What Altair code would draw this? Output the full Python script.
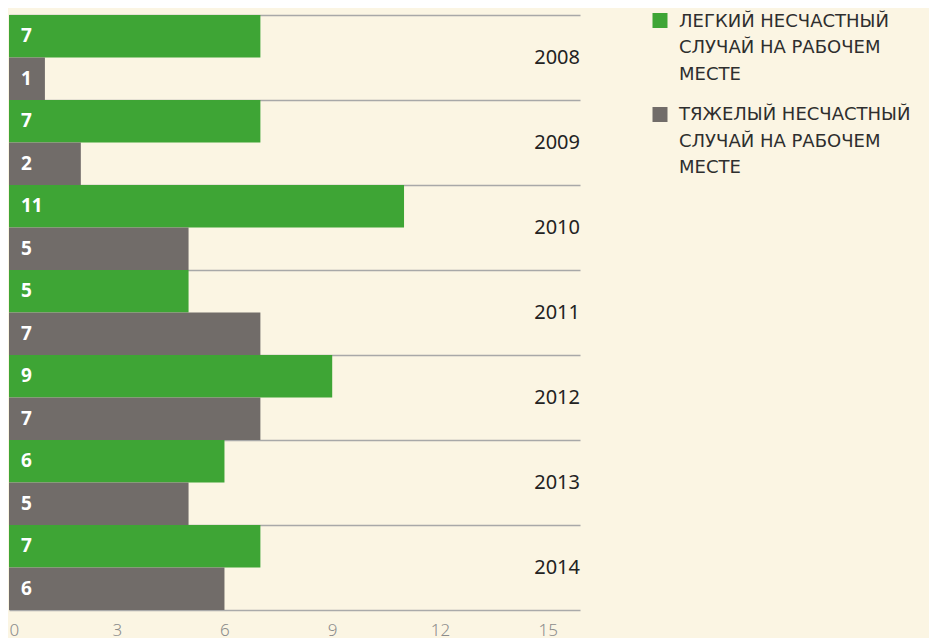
import altair as alt
import pandas as pd

years = ["2008", "2009", "2010", "2011", "2012", "2013", "2014"]
light = [7, 7, 11, 5, 9, 6, 7]
severe = [1, 2, 5, 7, 7, 5, 6]
series = ["ЛЕГКИЙ НЕСЧАСТНЫЙ СЛУЧАЙ НА РАБОЧЕМ МЕСТЕ",
          "ТЯЖЕЛЫЙ НЕСЧАСТНЫЙ СЛУЧАЙ НА РАБОЧЕМ МЕСТЕ"]
legend_lines = ["ЛЕГКИЙ НЕСЧАСТНЫЙ|СЛУЧАЙ НА РАБОЧЕМ|МЕСТЕ",
                "ТЯЖЕЛЫЙ НЕСЧАСТНЫЙ|СЛУЧАЙ НА РАБОЧЕМ|МЕСТЕ"]
colors = ["#3ea535", "#716c69"]
x_ticks = [0, 3, 6, 9, 12, 15]
x_max = 15.9

rows = []
for y, a, b in zip(years, light, severe):
    rows.append({"year": y, "series": series[0], "value": a})
    rows.append({"year": y, "series": series[1], "value": b})
df = pd.DataFrame(rows)
years_df = pd.DataFrame({"year": years})

FONT = "Noto Sans"

xenc = alt.X("value:Q",
             scale=alt.Scale(domain=[0, x_max], nice=False, zero=True),
             axis=alt.Axis(values=x_ticks, title=None, grid=False, ticks=False,
                           domain=True, domainColor="#aaaaaa", domainWidth=1.5,
                           labelColor="#8c8c8c", labelFontSize=17, labelFont=FONT,
                           labelPadding=12, labelFontWeight=300))
yenc = alt.Y("year:N", sort=years,
             scale=alt.Scale(paddingInner=0, paddingOuter=0),
             axis=alt.Axis(grid=True, bandPosition=0, labels=False, ticks=False,
                           domain=False, title=None, gridColor="#a8a8a8",
                           gridWidth=1.5))
yoff = alt.YOffset("series:N", sort=series,
                   scale=alt.Scale(paddingInner=0, paddingOuter=0))
color = alt.Color("series:N", sort=series,
                  scale=alt.Scale(domain=series, range=colors), legend=None)

bars = alt.Chart(df).mark_bar(cornerRadius=0).encode(
    x=xenc, y=yenc, yOffset=yoff, color=color)

bar_labels = alt.Chart(df).mark_text(
    align="left", baseline="middle", dx=12, color="white",
    fontWeight="bold", fontSize=19, font=FONT
).encode(x=alt.datum(0), y=alt.Y("year:N", sort=years), yOffset=yoff,
         text="value:Q")

year_labels = alt.Chart(years_df).mark_text(
    align="right", baseline="middle", fontSize=20, color="#222222", font=FONT
).encode(x=alt.datum(x_max), y=alt.Y("year:N", sort=years), text="year:N")

leg_df = pd.DataFrame({"series": series, "label": legend_lines})

sq1 = alt.Chart(leg_df.iloc[[0]]).mark_square(size=225, opacity=1).encode(
    x=alt.value(651), y=alt.value(5.5), color=color)
sq2 = alt.Chart(leg_df.iloc[[1]]).mark_square(size=225, opacity=1).encode(
    x=alt.value(651), y=alt.value(99.5), color=color)
tx1 = alt.Chart(leg_df.iloc[[0]]).mark_text(
    align="left", baseline="middle", lineBreak="|", lineHeight=26.7,
    fontSize=18, color="#2e2e2e", font="DejaVu Sans"
).encode(x=alt.value(670), y=alt.value(6.5), text="label:N")
tx2 = alt.Chart(leg_df.iloc[[1]]).mark_text(
    align="left", baseline="middle", lineBreak="|", lineHeight=26.7,
    fontSize=18, color="#2e2e2e", font="DejaVu Sans"
).encode(x=alt.value(670), y=alt.value(100), text="label:N")

chart = alt.layer(bars, bar_labels, year_labels, sq1, sq2, tx1, tx2).properties(
    width=571, height=595,
    padding={"left": 1, "top": 4, "right": 18, "bottom": 0},
    background="#fbf5e3"
).configure_view(stroke=None)

chart.save("out.html", embed_options={"renderer": "svg", "actions": False})
